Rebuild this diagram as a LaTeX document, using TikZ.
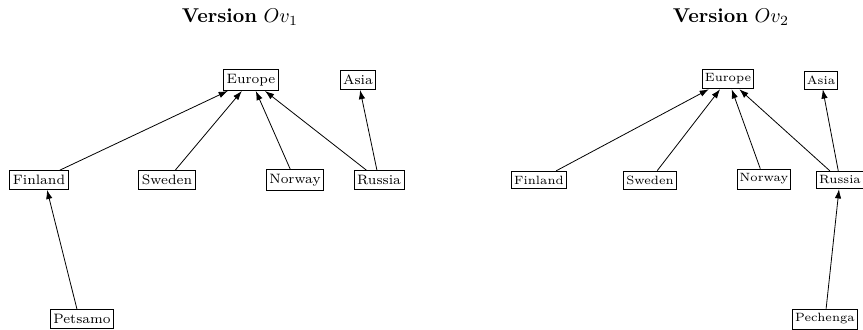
\documentclass[tikz,border=0pt]{standalone}
\usepackage{amsmath}
\usepackage{tikz}
\usetikzlibrary{calc,arrows.meta}

\tikzset{
  country/.style={draw, inner xsep=1.5pt, inner ysep=2.3pt, font=\fontsize{6.8}{8}\selectfont},
  smallcountry/.style={country, inner xsep=1.2pt, font=\fontsize{6}{7}\selectfont},
  isa/.style={-{Latex[length=4.6pt,width=3.2pt]}, line width=0.4pt}
}

\begin{document}
\begin{tikzpicture}[x=0.5pt,y=-0.5pt]
\useasboundingbox (0,0) rectangle (863,329);
% version one
\node (title1) at (240,17) {\textbf{Version} $Ov_1$};
\node[country] (eur1) at (251,80) {Europe};
\node[country] (asia1) at (358,80) {Asia};
\node[country] (fin1) at (39,180) {Finland};
\node[country] (swe1) at (167,180) {Sweden};
\node[country] (nor1) at (295,180) {Norway};
\node[country] (rus1) at (379,180) {Russia};
\node[country] (pet1) at (82,319) {Petsamo};
\foreach \c in {fin1,swe1,nor1,rus1}
\draw[isa] (\c) -- (eur1);
\draw[isa] (rus1) -- (asia1);
\draw[isa] (pet1.north) ++(-5,0) -- ([xshift=4pt]fin1.south);
% version two
\node (title2) at (731,17) {\textbf{Version} $Ov_2$};
\node[smallcountry] (eur2) at (728,79) {Europe};
\node[smallcountry] (asia2) at (821,80) {Asia};
\node[smallcountry] (fin2) at (539,180) {Finland};
\node[smallcountry] (swe2) at (650,180) {Sweden};
\node[smallcountry] (nor2) at (764,179) {Norway};
\node[smallcountry] (rus2) at (840,180) {Russia};
\node[smallcountry] (pec2) at (825,319) {Pechenga};
\foreach \c in {fin2,swe2,nor2,rus2}
\draw[isa] (\c) -- (eur2);
\draw[isa] (rus2) -- (asia2);
\draw[isa] (pec2) -- (rus2);
\end{tikzpicture}
\end{document}
